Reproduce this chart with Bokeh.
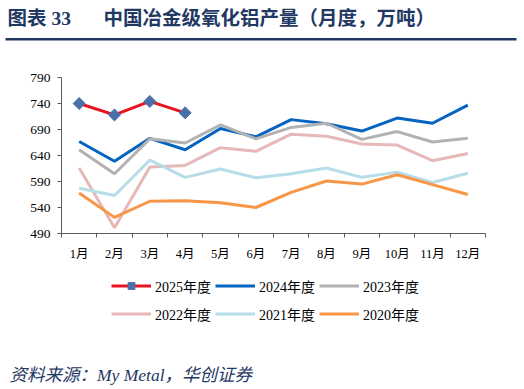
import math
from bokeh.plotting import figure
from bokeh.layouts import column
from bokeh.models import (Range1d, FixedTicker, Label, Legend, LegendItem)
from bokeh.embed import file_html
from bokeh.resources import INLINE

# ---------------- data ----------------
months = ["1月", "2月", "3月", "4月", "5月", "6月", "7月", "8月", "9月", "10月", "11月", "12月"]
y2025 = [740, 718, 744, 722]
y2024 = [667, 629, 673, 651, 692, 676, 709, 701, 687, 712, 702, 737]
y2023 = [651, 605, 672, 664, 699, 672, 694, 702, 671, 686, 666, 673]
y2022 = [616, 501, 618, 621, 655, 648, 681, 677, 662, 660, 630, 644]
y2021 = [577, 563, 631, 598, 614, 597, 605, 616, 598, 608, 588, 606]
y2020 = [568, 521, 552, 553, 549, 540, 569, 591, 585, 603, 584, 565]
y_ticks = [490, 540, 590, 640, 690, 740, 790]
series_names = ["2025年度", "2024年度", "2023年度", "2022年度", "2021年度", "2020年度"]
series_colors = ["#E8141E", "#0563C1", "#B2B2B2", "#E6B9B8", "#B7DDE8", "#F79646"]
marker_color = "#4A70A8"
title_left = "图表 33"
title_right = "中国冶金级氧化铝产量（月度，万吨）"
source_text = "资料来源：My Metal，华创证券"

SERIF = "'Liberation Serif', 'Times New Roman', 'Noto Sans CJK SC', serif"
NAVY = "#1F3864"
AXIS = "#595959"
W = 524
LW = 3
NAN = float("nan")

x_pos = list(range(1, len(months) + 1))
all_series = [y2025, y2024, y2023, y2022, y2021, y2020]


def blank(h, **kw):
    f = figure(width=W, height=h, output_backend="svg", toolbar_location=None,
               x_range=Range1d(0, W), y_range=Range1d(0, h),
               x_axis_type=None, y_axis_type=None, frame_align=False, **kw)
    f.outline_line_color = None
    f.xgrid.visible = False
    f.ygrid.visible = False
    return f


# ---------------- header (title + navy rule) ----------------
HH = 50
header = blank(HH, min_border=0)
header.add_layout(Label(x=7, y=HH - 17.5, text=title_left,
                        text_font=SERIF, text_font_size="19.5px", text_font_style="bold",
                        text_color=NAVY, text_baseline="middle"))
header.add_layout(Label(x=103, y=HH - 17.5, text=title_right,
                        text_font=SERIF, text_font_size="19.5px", text_font_style="bold",
                        text_color=NAVY, text_baseline="middle"))
# decorative rule under the title (page x 5..516, page y 37.5..40)
header.quad(left=[5], right=[516], bottom=[HH - 40], top=[HH - 37.5],
            fill_color=NAVY, line_color=None)

# ---------------- main chart ----------------
MT = 77 - HH
MB = 40
p = figure(output_backend="svg", toolbar_location=None,
           x_range=Range1d(0.5, 12.5), y_range=Range1d(490, 790),
           min_border_left=61, min_border_right=39, min_border_top=MT, min_border_bottom=MB,
           frame_width=424, frame_height=156, frame_align=False)
p.outline_line_color = None
p.xgrid.visible = False
p.ygrid.visible = False

p.xaxis.ticker = FixedTicker(ticks=x_pos, minor_ticks=[i + 0.5 for i in range(0, 13)])
p.xaxis.major_label_overrides = {i + 1: m for i, m in enumerate(months)}
p.xaxis.major_tick_line_color = None
p.xaxis.major_tick_out = 0
p.xaxis.major_tick_in = 0
p.xaxis.minor_tick_line_color = AXIS
p.xaxis.minor_tick_out = 4
p.xaxis.minor_tick_in = 0
p.xaxis.major_label_standoff = 9
p.xaxis.axis_line_color = AXIS
p.xaxis.major_label_text_font_size = "12.5px"

p.yaxis.ticker = FixedTicker(ticks=y_ticks, minor_ticks=[])
p.yaxis.major_tick_out = 4
p.yaxis.major_tick_in = 0
p.yaxis.major_tick_line_color = AXIS
p.yaxis.axis_line_color = AXIS
p.yaxis.major_label_standoff = 7
p.yaxis.major_label_text_font_size = "13.5px"

for ax in (p.xaxis, p.yaxis):
    ax.major_label_text_font = SERIF
    ax.major_label_text_color = "#000000"

for vals, col in zip(all_series, series_colors):
    p.line(x_pos[:len(vals)], vals, line_color=col, line_width=LW)
p.scatter(x_pos[:len(y2025)], y2025, marker="square", size=8.5, angle=math.pi / 4,
          fill_color=marker_color, line_color=marker_color)

# ---------------- bottom: legend + source ----------------
TOP_OF_BOTTOM = HH + MT + 156 + MB       # page y where the bottom strip starts
BH = 389 - TOP_OF_BOTTOM
bottom = blank(BH, min_border=0)
# legend-only proxy renderers (no visible data)
proxies = [bottom.line([NAN], [NAN], line_color=col, line_width=LW) for col in series_colors]
proxy_marker = bottom.scatter([NAN], [NAN], marker="square", size=7, angle=math.pi / 4,
                              fill_color=marker_color, line_color=marker_color)

common = dict(orientation="horizontal", glyph_width=40, glyph_height=17, label_height=17,
              label_standoff=4, spacing=4, padding=0, margin=0, border_line_color=None,
              background_fill_alpha=0, label_text_font=SERIF, label_text_font_size="14px",
              label_text_color="#000000")


def legend_bottom(page_center_y):
    return 389 - (page_center_y + 8.5)


leg1 = Legend(items=[LegendItem(label=series_names[0], renderers=[proxies[0], proxy_marker]),
                     LegendItem(label=series_names[1], renderers=[proxies[1]]),
                     LegendItem(label=series_names[2], renderers=[proxies[2]])],
              location=(111, legend_bottom(287)), **common)
leg2 = Legend(items=[LegendItem(label=series_names[3], renderers=[proxies[3]]),
                     LegendItem(label=series_names[4], renderers=[proxies[4]]),
                     LegendItem(label=series_names[5], renderers=[proxies[5]])],
              location=(111, legend_bottom(315)), **common)
bottom.add_layout(leg1, "center")
bottom.add_layout(leg2, "center")
bottom.add_layout(Label(x=9, y=389 - 374, text=source_text,
                        text_font=SERIF, text_font_size="17.5px", text_font_style="italic",
                        text_color=NAVY, text_baseline="middle"))

layout = column(header, p, bottom, spacing=0)
open("out.html", "w").write(file_html(layout, INLINE))
